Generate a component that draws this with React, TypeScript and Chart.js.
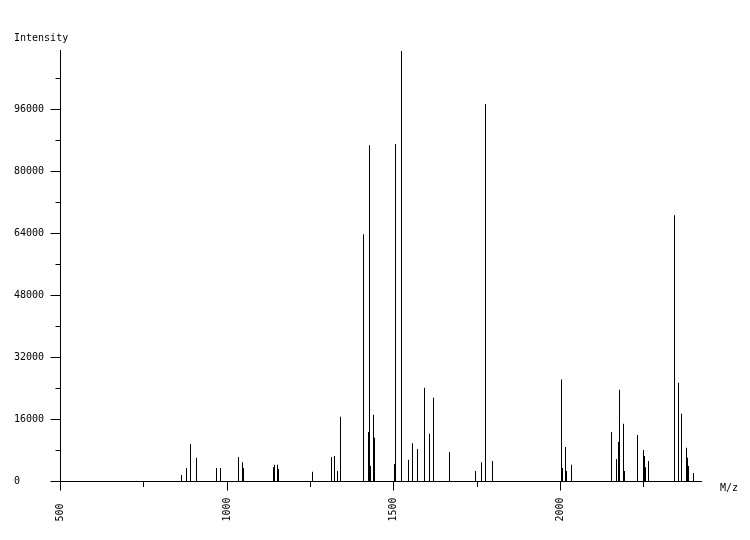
import React, { useEffect, useRef } from 'react';
import { Chart, registerables } from 'chart.js';

Chart.register(...registerables);

// Peak positions (m/z) and intensities
const mzValues = [
  863, 878, 890, 908, 968, 980, 1034, 1046, 1049, 1139, 1142, 1151, 1154, 1256,
  1313, 1322, 1331, 1340, 1409, 1424, 1427, 1430, 1439, 1442, 1502, 1505, 1523,
  1544, 1556, 1571, 1592, 1607, 1619, 1667, 1745, 1763, 1775, 1796, 2003, 2006,
  2015, 2018, 2033, 2153, 2168, 2174, 2177, 2189, 2192, 2231, 2249, 2252, 2255,
  2264, 2342, 2354, 2363, 2378, 2381, 2384, 2399
];

const intensities = [
  1700, 3500, 9700, 6100, 3500, 3500, 6300, 5000, 3500, 3700, 4300, 4300, 3200, 2500,
  6300, 6600, 2700, 16700, 63800, 12800, 86800, 4000, 17200, 11300, 4500, 87100, 111100,
  5600, 9900, 8400, 24200, 12300, 21600, 7600, 2700, 5000, 97400, 5300, 26300, 3500,
  8900, 2700, 4300, 12800, 5800, 10200, 23700, 14900, 2700, 12000, 8100, 6600, 3700,
  5300, 68700, 25500, 17500, 8700, 6100, 4000, 2200
];

// tick positions; only the labelled ones get a number
const xTicks = [500, 750, 1000, 1250, 1500, 1750, 2000, 2250];
const xLabelled = [500, 1000, 1500, 2000];
const yTicks = [0, 8000, 16000, 24000, 32000, 40000, 48000, 56000, 64000, 72000, 80000, 88000, 96000, 104000];
const yLabelled = [0, 16000, 32000, 48000, 64000, 80000, 96000];

const FONT = '"DejaVu Sans Mono", "Liberation Mono", monospace';

// short ticks between the labelled ones, plus the two axis captions
const axisExtras = {
  id: 'axisExtras',
  afterDraw(chart: Chart) {
    const { ctx } = chart;
    const x = chart.scales.x;
    const y = chart.scales.y;
    ctx.save();
    ctx.strokeStyle = '#000';
    ctx.lineWidth = 1;
    ctx.beginPath();
    x.ticks.forEach((t) => {
      if (xLabelled.includes(t.value)) return;
      const px = Math.round(x.getPixelForValue(t.value) - 0.5) + 0.5;
      ctx.moveTo(px, x.top + 0.5);
      ctx.lineTo(px, x.top + 5.5);
    });
    y.ticks.forEach((t) => {
      if (yLabelled.includes(t.value)) return;
      const py = Math.round(y.getPixelForValue(t.value) - 0.5) + 0.5;
      ctx.moveTo(y.right - 5, py);
      ctx.lineTo(y.right, py);
    });
    ctx.stroke();

    ctx.fillStyle = '#000';
    ctx.font = `10px ${FONT}`;
    ctx.textAlign = 'left';
    ctx.textBaseline = 'alphabetic';
    ctx.fillText('Intensity', 14, 41);
    ctx.fillText('M/z', 720, 491);
    ctx.restore();
  }
};

const SpectrumChart: React.FC = () => {
  const chartRef = useRef<HTMLCanvasElement | null>(null);
  const chartInstance = useRef<Chart | null>(null);

  useEffect(() => {
    if (!chartRef.current) return;
    if (chartInstance.current) chartInstance.current.destroy();

    const ctx = chartRef.current.getContext('2d');
    if (!ctx) return;

    const majorColor = (labelled: number[]) => (c: any) =>
      c.tick && labelled.includes(c.tick.value) ? '#000' : 'rgba(0,0,0,0)';

    chartInstance.current = new Chart(ctx, {
      type: 'bar',
      data: {
        datasets: [
          {
            label: 'Intensity',
            data: mzValues.map((m, i) => ({ x: m, y: intensities[i] })),
            backgroundColor: '#000',
            borderWidth: 0,
            barThickness: 1,
            inflateAmount: 0
          } as any
        ]
      },
      plugins: [axisExtras],
      options: {
        responsive: false,
        animation: false,
        devicePixelRatio: 1,
        layout: {
          padding: { left: 14, top: 50.5, right: 49, bottom: 0 }
        },
        plugins: {
          legend: { display: false },
          tooltip: { enabled: false },
          title: { display: false }
        },
        scales: {
          x: {
            type: 'linear',
            min: 500,
            max: 2421.5,
            offset: false,
            afterBuildTicks: (s: any) => {
              s.ticks = xTicks.map((value) => ({ value }));
            },
            afterFit: (s: any) => {
              s.height = 58.5;
            },
            grid: {
              offset: false,
              drawOnChartArea: false,
              drawTicks: true,
              tickLength: 9,
              color: majorColor(xLabelled)
            },
            border: { display: true, color: '#000', width: 1 },
            ticks: {
              autoSkip: false,
              minRotation: 90,
              maxRotation: 90,
              padding: 7,
              color: '#000',
              font: { family: FONT, size: 10 },
              // trailing pad keeps the rotated numbers starting on one line
              callback: (v: any) =>
                xLabelled.includes(Number(v)) ? String(v).padEnd(4, ' ') : ''
            }
          },
          y: {
            min: 0,
            max: 111230,
            afterBuildTicks: (s: any) => {
              s.ticks = yTicks.map((value) => ({ value }));
            },
            afterFit: (s: any) => {
              s.width = 46.5;
            },
            grid: {
              drawOnChartArea: false,
              drawTicks: true,
              tickLength: 10,
              color: majorColor(yLabelled)
            },
            border: { display: true, color: '#000', width: 1 },
            ticks: {
              autoSkip: false,
              crossAlign: 'far',
              color: '#000',
              font: { family: FONT, size: 10 },
              callback: (v: any) => (yLabelled.includes(Number(v)) ? String(v) : '')
            }
          }
        }
      } as any
    });

    return () => {
      if (chartInstance.current) {
        chartInstance.current.destroy();
        chartInstance.current = null;
      }
    };
  }, []);

  return (
    <div style={{ position: 'absolute', left: 0, top: 0, width: 750, height: 540, background: '#fff' }}>
      <canvas ref={chartRef} width={750} height={540} />
    </div>
  );
};

export default function App() {
  return <SpectrumChart />;
}
